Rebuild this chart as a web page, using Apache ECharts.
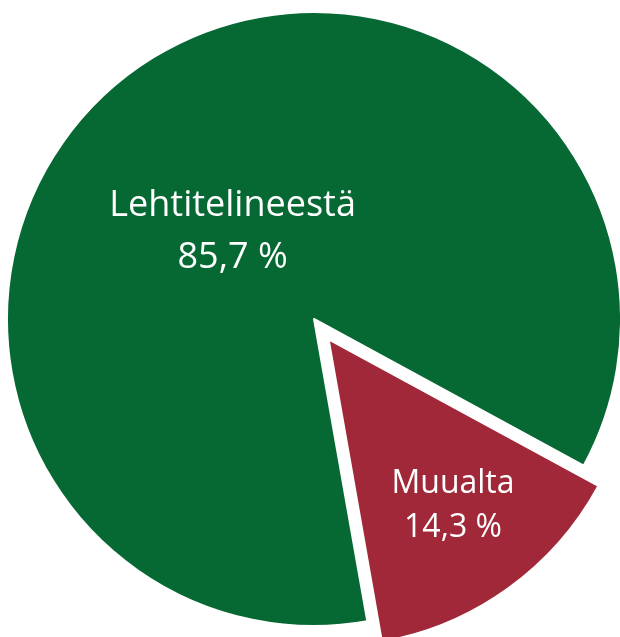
<!DOCTYPE html>
<html>
<head>
<meta charset="utf-8">
<script src="https://cdn.jsdelivr.net/npm/echarts@6/dist/echarts.min.js"></script>
<style>
  html, body { margin: 0; padding: 0; background: #fff; }
  #chart { width: 620px; height: 637px; }
</style>
</head>
<body>
<div id="chart"></div>
<script>
  // osuudet prosentteina
  var names = ['Lehtitelineestä', 'Muualta'];
  var values = [85.7, 14.3];
  var colors = ['#066833', '#a12838'];

  var chart = echarts.init(document.getElementById('chart'));

  // label tweaks per slice (excel puts them a bit off the bisector)
  var labelSize = [36, 32];
  var labelLine = [52, 44];
  var labelShift = [[10, 40], [33, 40]];

  var data = names.map(function (n, i) {
    return {
      name: n,
      value: values[i],
      selected: i === 1,
      itemStyle: { color: colors[i] },
      label: { fontSize: labelSize[i], lineHeight: labelLine[i] }
    };
  });

  chart.setOption({
    animation: false,
    series: [{
      type: 'pie',
      center: [314, 319],
      radius: 307,
      startAngle: 280,
      clockwise: true,
      selectedMode: 'single',
      selectedOffset: 25,
      itemStyle: { borderColor: '#fff', borderWidth: 2 },
      emphasis: { disabled: true },
      label: {
        show: true,
        position: 'inside',
        color: '#fff',
        fontFamily: 'Open Sans',
        align: 'center',
        formatter: function (p) {
          return p.name + '\n' + p.value.toFixed(1).replace('.', ',') + ' %';
        }
      },
      labelLine: { show: false },
      labelLayout: function (p) {
        return { dx: labelShift[p.dataIndex][0], dy: labelShift[p.dataIndex][1] };
      },
      data: data
    }]
  });
</script>
</body>
</html>
